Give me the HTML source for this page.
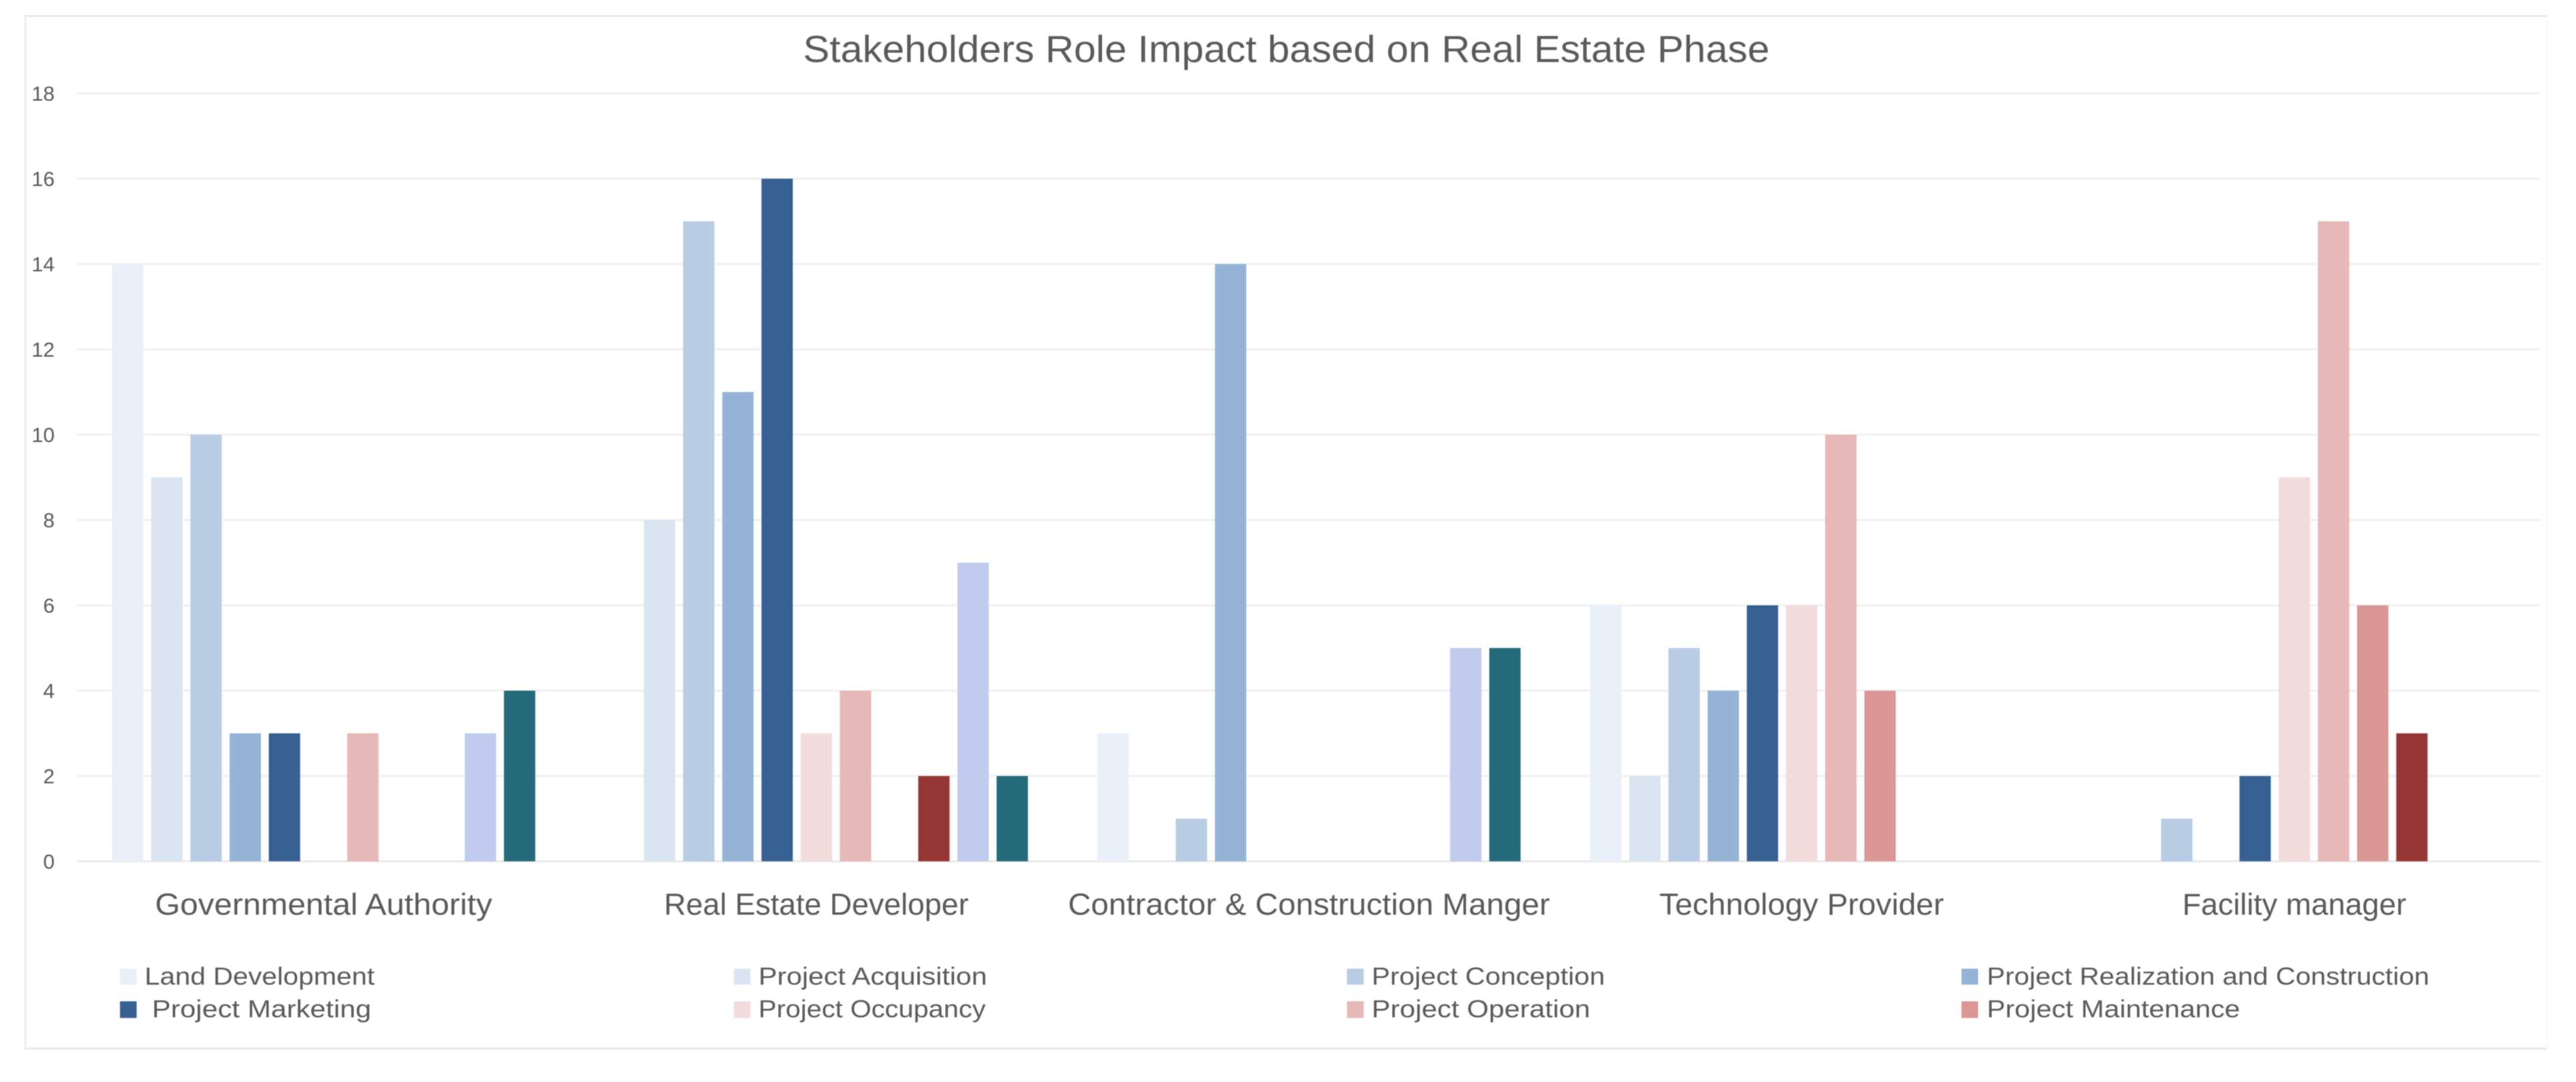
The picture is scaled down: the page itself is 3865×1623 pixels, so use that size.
<!DOCTYPE html>
<html lang="en">
<head>
<meta charset="utf-8">
<title>Stakeholders Role Impact based on Real Estate Phase</title>
<style>
html,body{margin:0;padding:0;background:#fff;}
body{width:3865px;height:1623px;overflow:hidden;}
svg{display:block;}
text{font-family:"Liberation Sans",sans-serif;fill:#595959;}
#root{filter:blur(0.7px);}
</style>
</head>
<body>
<svg id="chart" xmlns="http://www.w3.org/2000/svg" width="3865" height="1623" viewBox="0 0 3865 1623">
 <g id="root">
  <g stroke-width="3">
    <line x1="37" x2="3822" y1="24" y2="24" stroke="#e8e8e8"/>
    <line x1="37" x2="3822" y1="1573" y2="1573" stroke="#e8e8e8"/>
    <line x1="38" x2="38" y1="24" y2="1573" stroke="#eeeeee"/>
    <line x1="3822" x2="3822" y1="24" y2="1573" stroke="#fafafa"/>
  </g>
  <text x="1205" y="93" font-size="57" textLength="1450" lengthAdjust="spacingAndGlyphs">Stakeholders Role Impact based on Real Estate Phase</text>
  <g id="grid"></g>
  <g id="yticks"></g>
  <g id="bars"></g>
  <g id="xlabels"></g>
  <g font-size="37">
    <g><rect x="180" y="1453" width="25" height="24" fill="#e9f0f8"/><text x="217" y="1477" textLength="345" lengthAdjust="spacingAndGlyphs">Land Development</text></g>
    <g><rect x="1101" y="1453" width="25" height="24" fill="#dae5f1"/><text x="1138" y="1477" textLength="343" lengthAdjust="spacingAndGlyphs">Project Acquisition</text></g>
    <g><rect x="2021" y="1453" width="25" height="24" fill="#b8cce4"/><text x="2058" y="1477" textLength="350" lengthAdjust="spacingAndGlyphs">Project Conception</text></g>
    <g><rect x="2943" y="1453" width="25" height="24" fill="#95b3d7"/><text x="2981" y="1477" textLength="664" lengthAdjust="spacingAndGlyphs">Project Realization and Construction</text></g>
    <g><rect x="180" y="1502" width="25" height="25" fill="#366092"/><text x="228" y="1526" textLength="329" lengthAdjust="spacingAndGlyphs">Project Marketing</text></g>
    <g><rect x="1101" y="1502" width="25" height="25" fill="#f2dcdb"/><text x="1138" y="1526" textLength="341" lengthAdjust="spacingAndGlyphs">Project Occupancy</text></g>
    <g><rect x="2021" y="1502" width="25" height="25" fill="#e6b8b7"/><text x="2058" y="1526" textLength="328" lengthAdjust="spacingAndGlyphs">Project Operation</text></g>
    <g><rect x="2943" y="1502" width="25" height="25" fill="#da9694"/><text x="2981" y="1526" textLength="380" lengthAdjust="spacingAndGlyphs">Project Maintenance</text></g>
  </g>
 </g>
</svg>
<script>
const categories = ["Governmental Authority", "Real Estate Developer", "Contractor & Construction Manger", "Technology Provider", "Facility manager"];
const yTicks = [0, 2, 4, 6, 8, 10, 12, 14, 16, 18];
const landDevelopment = [14, 0, 3, 6, 0];
const projectAcquisition = [9, 8, 0, 2, 0];
const projectConception = [10, 15, 1, 5, 1];
const projectRealization = [3, 11, 14, 4, 0];
const projectMarketing = [3, 16, 0, 6, 2];
const projectOccupancy = [0, 3, 0, 6, 9];
const projectOperation = [3, 4, 0, 10, 15];
const projectMaintenance = [0, 0, 0, 4, 6];
const unlabeledDarkRed = [0, 2, 0, 0, 3];
const unlabeledPeriwinkle = [3, 7, 5, 0, 0];
const unlabeledTeal = [4, 2, 5, 0, 0];
const seriesValues = [landDevelopment, projectAcquisition, projectConception, projectRealization, projectMarketing, projectOccupancy, projectOperation, projectMaintenance, unlabeledDarkRed, unlabeledPeriwinkle, unlabeledTeal];
const seriesKeys = ["land-development", "project-acquisition", "project-conception", "project-realization", "project-marketing", "project-occupancy", "project-operation", "project-maintenance", "dark-red-series", "periwinkle-series", "teal-series"];
const seriesColors = ["#e9f0f8", "#dae5f1", "#b8cce4", "#95b3d7", "#366092", "#f2dcdb", "#e6b8b7", "#da9694", "#963634", "#c0cbee", "#246a7a"];

const NS = "http://www.w3.org/2000/svg";
const plotLeft = 116, plotRight = 3812, baseY = 1292, unitY = 64;
const barWidth = 47, barPitch = 58.8;
const labelFit = {"Governmental Authority": 506, "Real Estate Developer": 457, "Contractor & Construction Manger": 723, "Technology Provider": 427, "Facility manager": 336};
const groupWidth = (plotRight - plotLeft) / categories.length;
const yScale = v => baseY - v * unitY;
const groupCenter = i => plotLeft + groupWidth * (i + 0.5);
const barX = (g, s) => groupCenter(g) - (seriesValues.length * barPitch - (barPitch - barWidth)) / 2 + s * barPitch;
function mk(tag, attrs, parent, text) {
  const el = document.createElementNS(NS, tag);
  for (const k in attrs) el.setAttribute(k, attrs[k]);
  if (text !== undefined) el.textContent = text;
  parent.appendChild(el);
  return el;
}
const grid = document.getElementById("grid");
const yticks = document.getElementById("yticks");
yTicks.forEach(t => {
  const line = mk("line", {x1: plotLeft, x2: plotRight, y1: yScale(t), y2: yScale(t), stroke: t === 0 ? "#e6e6e6" : "#eeeeee", "stroke-width": 2.5}, grid);
  
  
  const label = mk("text", {x: 82, y: yScale(t) + 11, "text-anchor": "end", "font-size": 31}, yticks, String(t));
  
  
});
const bars = document.getElementById("bars");
seriesValues.forEach((vals, s) => {
  vals.forEach((v, g) => {
    if (!v) return;
    const r = mk("rect", {x: barX(g, s), y: yScale(v), width: barWidth, height: baseY - yScale(v), fill: seriesColors[s]}, bars);
    
    
  });
});
const xlabels = document.getElementById("xlabels");
categories.forEach((c, i) => {
  const t = mk("text", {x: groupCenter(i), y: 1372, "text-anchor": "middle", "font-size": 45, textLength: labelFit[c] || 450, lengthAdjust: "spacingAndGlyphs"}, xlabels, c);
  
  
});
</script>
</body>
</html>
